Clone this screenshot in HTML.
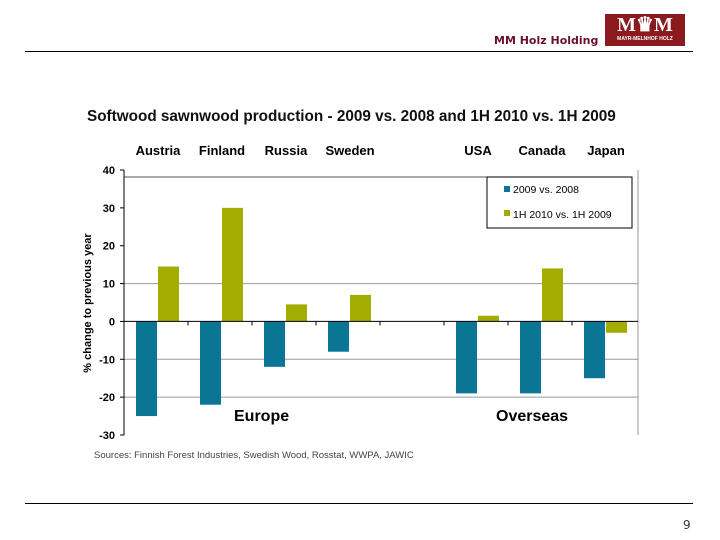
<!DOCTYPE html>
<html><head><meta charset="utf-8"><style>
body{margin:0;width:720px;height:540px;background:#fff;font-family:"Liberation Sans",sans-serif;position:relative;overflow:hidden}
.abs{position:absolute}
</style></head><body>
<div class="abs" style="left:494px;top:34px;font:bold 11px 'DejaVu Sans',sans-serif;color:#6b1030">MM Holz Holding</div>
<div class="abs" style="left:605px;top:14px;width:80px;height:32px;background:#8b1a1f;color:#fff;text-align:center">
<div style="font:bold 20px 'Liberation Serif',serif;line-height:22px">M♛M</div>
<div style="font:bold 5px 'Liberation Sans',sans-serif">MAYR-MELNHOF HOLZ</div></div>
<div class="abs" style="left:25px;top:51px;width:668px;height:1px;background:#000"></div>
<div class="abs" style="left:25px;top:503px;width:668px;height:1px;background:#000"></div>
<div class="abs" style="left:683px;top:518px;font:12px 'DejaVu Sans',sans-serif;color:#333">9</div>
<svg class="abs" style="left:0;top:0" width="720" height="540" id="chart">
<text x="87" y="121" font-size="15.3" font-weight="bold" fill="#111">Softwood sawnwood production - 2009 vs. 2008 and 1H 2010 vs. 1H 2009</text>
<text transform="translate(91,303) rotate(-90)" text-anchor="middle" font-size="11" font-weight="bold">% change to previous year</text>
<text x="234" y="421" font-size="16" font-weight="bold">Europe</text>
<text x="496" y="421" font-size="16" font-weight="bold">Overseas</text>
<text x="94" y="458" font-size="9.5" fill="#444">Sources: Finnish Forest Industries, Swedish Wood, Rosstat, WWPA, JAWIC</text>
<g id="g"></g>
<g>
<rect x="487" y="177" width="145" height="51" fill="#fff" stroke="#000" stroke-width="1"/>
<rect x="504" y="186" width="6" height="6" fill="#0b7595"/>
<text x="513" y="193" font-size="10.5">2009 vs. 2008</text>
<rect x="504" y="210" width="6" height="6" fill="#a3ad00"/>
<text x="513" y="218" font-size="10.5">1H 2010 vs. 1H 2009</text>
</g>
</svg>
<script>
const categories=["Austria","Finland","Russia","Sweden","","USA","Canada","Japan"];
const series2009=[-25,-22,-12,-8,null,-19,-19,-15];
const series2010=[14.5,30,4.5,7,null,1.5,14,-3];
const yTicks=[40,30,20,10,0,-10,-20,-30];
const gridVals=[10,-10,-20];
const NS="http://www.w3.org/2000/svg";
const g=document.getElementById('g');
const x0=124,slot=64,yTop=170,yBot=435;
const y=v=>yTop+(40-v)*(yBot-yTop)/70;
function mk(t,a){const e=document.createElementNS(NS,t);for(const k in a)e.setAttribute(k,a[k]);g.appendChild(e);return e;}
gridVals.forEach(v=>{const l=mk('line',{x1:x0,x2:638,y1:y(v),y2:y(v),stroke:'#999','stroke-width':1});

});
const tl=mk('line',{x1:x0,x2:632,y1:177,y2:177,stroke:'#555','stroke-width':1});


const rb=mk('line',{x1:638,x2:638,y1:170,y2:435,stroke:'#999','stroke-width':1});


yTicks.forEach(v=>{const t=mk('text',{x:115,y:y(v)+4,'text-anchor':'end','font-size':11,'font-weight':'bold'});t.textContent=v;

});
categories.forEach((c,i)=>{
 const sx=x0+i*slot;
 if(c){const t=mk('text',{x:sx+slot/2+2,y:155,'text-anchor':'middle','font-size':13,'font-weight':'bold'});t.textContent=c;
 
 }
 [[series2009[i],'#0b7595',12],[series2010[i],'#a3ad00',34]].forEach(([v,col,off])=>{
  if(v==null)return;
  const r=mk('rect',{x:sx+off,width:21,y:Math.min(y(v),y(0)),height:Math.abs(y(v)-y(0)),fill:col});
  
  
 });
 if(i>0){const tk=mk('line',{x1:sx,x2:sx,y1:y(0),y2:y(0)+4,stroke:'#000'});
 
 }
});
const ax=mk('line',{x1:x0,x2:638,y1:y(0),y2:y(0),stroke:'#000','stroke-width':1});


const ya=mk('line',{x1:x0,x2:x0,y1:yTop,y2:yBot,stroke:'#000','stroke-width':1});


yTicks.forEach(v=>{const t=mk('line',{x1:x0-4,x2:x0,y1:y(v),y2:y(v),stroke:'#000'});

});
</script>
</body></html>
